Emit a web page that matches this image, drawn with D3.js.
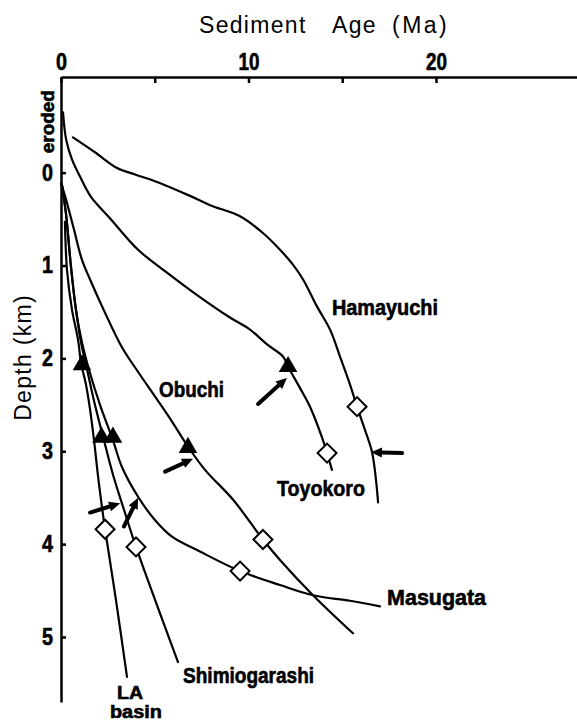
<!DOCTYPE html>
<html>
<head>
<meta charset="utf-8">
<script src="https://cdn.jsdelivr.net/npm/d3@7"></script>
<style>
  html, body { margin: 0; padding: 0; background: #fff; }
  svg { display: block; }
  .title { font-family: "Liberation Sans", Arial, sans-serif; font-size: 23px; letter-spacing: 1.3px; fill: #000; }
  .bold { font-family: "Liberation Sans", Arial, sans-serif; font-weight: bold; fill: #000; stroke: #000; stroke-width: 0.6px; }
</style>
</head>
<body>
<svg id="chart" width="577" height="721"></svg>
<script>
// Burial curves: sediment age (Ma) against depth (km)
const hamayuchi = [[0.64,-0.38],[1.81,-0.22],[2.99,-0.05],[3.95,0.02],[5.12,0.10],[6.88,0.25],[7.95,0.35],[9.55,0.47],[10.77,0.65],[11.68,0.83],[12.37,0.99],[12.91,1.15],[13.65,1.44],[14.35,1.69],[14.88,1.98],[15.41,2.28],[15.79,2.52],[16.21,2.77],[16.59,3.01],[16.80,3.31],[16.91,3.55]];
const toyokoro = [[0.11,-0.65],[0.27,-0.36],[0.59,-0.14],[1.01,0.04],[1.60,0.26],[2.61,0.49],[4.11,0.83],[5.81,1.10],[7.41,1.34],[9.01,1.56],[10.08,1.69],[10.99,1.85],[11.84,1.98],[12.11,2.09],[12.75,2.32],[13.28,2.52],[13.92,2.85],[14.19,3.02],[14.45,3.20]];
const obuchi = [[0.00,0.11],[0.27,0.29],[0.69,0.61],[1.12,0.94],[1.55,1.15],[2.35,1.51],[3.25,1.88],[4.16,2.16],[5.01,2.41],[5.92,2.68],[6.77,2.95],[7.68,3.20],[9.17,3.52],[10.77,3.95],[11.68,4.17],[13.44,4.55],[15.57,4.96]];
const masugata = [[0.05,0.13],[0.27,0.45],[0.53,1.01],[0.80,1.48],[1.12,1.83],[1.49,2.12],[2.08,2.50],[2.77,2.88],[3.25,3.17],[4.11,3.49],[5.01,3.74],[5.92,3.92],[7.41,4.08],[9.55,4.29],[11.68,4.44],[13.44,4.55],[15.41,4.61],[17.01,4.67]];
const shimiogarashi = [[0.05,0.13],[0.27,0.45],[0.53,1.01],[0.80,1.48],[1.07,1.83],[1.39,2.12],[1.81,2.50],[2.29,2.88],[2.77,3.25],[3.36,3.63],[4.00,4.03],[5.07,4.63],[6.24,5.27]];
const laBasin = [[0.21,0.53],[0.32,1.05],[0.59,1.48],[0.91,1.80],[1.07,2.05],[1.33,2.28],[1.55,2.55],[1.76,2.88],[2.03,3.36],[2.35,3.84],[2.93,4.60],[3.52,5.43]];

// Filled triangles, open diamonds, arrows (tail -> head)
const triangles = [[12.11,2.09],[6.77,2.96],[1.12,2.07],[2.16,2.85],[2.77,2.85]];
const diamonds = [[15.79,2.52],[14.19,3.02],[10.77,3.95],[9.55,4.29],[2.35,3.84],[4.00,4.03]];
const arrows = [
  [[10.51,2.49],[12.05,2.21]],
  [[18.19,3.02],[16.53,3.01]],
  [[5.55,3.22],[7.04,3.08]],
  [[1.55,3.66],[3.15,3.56]],
  [[3.36,3.81],[4.11,3.50]]
];

const xTicks = [0, 5, 10, 15, 20];
const xTickLabels = ["0", "", "10", "", "20"];
const yTicks = [0, 1, 2, 3, 4, 5];
const yTickLabels = ["0", "1", "2", "3", "4", "5"];

const curveNames = ["Hamayuchi", "Toyokoro", "Obuchi", "Masugata", "Shimiogarashi", "LA", "basin"];
const curveNameAt = [[14.45,1.53],[11.52,3.48],[5.23,2.42],[17.39,4.66],[6.51,5.50],[2.99,5.67],[2.61,5.87]];
const curveNameWidth = [106, 88, 65, 99, 131, 26, 52];

const svg = d3.select("#chart");
svg.append("rect").attr("width", 577).attr("height", 721).attr("fill", "#fff");

const x = d3.scaleLinear().domain([0, 27.52]).range([61, 577]);
const y = d3.scaleLinear().domain([-1.03, 5.70]).range([77, 702]);

// Top age axis, ticks pointing into the plot
const xAxis = d3.axisTop(x)
  .tickValues(xTicks)
  .tickFormat((d, i) => xTickLabels[i])
  .tickSizeInner(-6).tickSizeOuter(0).tickPadding(7);
const gx = svg.append("g").attr("transform", `translate(0,${y(-1.03)})`).call(xAxis);
gx.select(".domain").attr("stroke-width", 2.5);
gx.selectAll(".tick line").attr("stroke-width", 2.5);
gx.selectAll(".tick text").attr("class", "bold").style("font-size", "23px")
  .attr("textLength", d => d === 0 ? 11 : 21).attr("lengthAdjust", "spacingAndGlyphs");

// Left depth axis
const yAxis = d3.axisLeft(y)
  .tickValues(yTicks)
  .tickFormat((d, i) => yTickLabels[i])
  .tickSizeInner(-5).tickSizeOuter(0).tickPadding(8);
const gy = svg.append("g").attr("transform", `translate(${x(0)},0)`).call(yAxis);
gy.select(".domain").attr("stroke-width", 2.5);
gy.selectAll(".tick line").attr("stroke-width", 2.5);
gy.selectAll(".tick text").attr("class", "bold").style("font-size", "23px")
  .attr("textLength", 11).attr("lengthAdjust", "spacingAndGlyphs");

// "eroded" above the zero depth mark
svg.append("text").attr("class", "bold")
  .attr("transform", `translate(${x(0) - 7},${y(-0.21)}) rotate(-90)`)
  .style("font-size", "19px")
  .attr("textLength", 63).attr("lengthAdjust", "spacingAndGlyphs")
  .text("eroded");

// Axis titles
const xt = svg.append("text").attr("class", "title").attr("y", 33);
xt.append("tspan").attr("x", 199).text("Sediment");
xt.append("tspan").attr("x", 332).text("Age");
xt.append("tspan").attr("x", 392).style("letter-spacing", "2.5px").text("(Ma)");

svg.append("text").attr("class", "title")
  .attr("transform", `translate(31,${y(1.99)}) rotate(-90)`)
  .attr("text-anchor", "middle")
  .text("Depth (km)");

// Curves
const line = d3.line().x(d => x(d[0])).y(d => y(d[1])).curve(d3.curveCatmullRom.alpha(0.5));
const curves = [hamayuchi, toyokoro, obuchi, masugata, shimiogarashi, laBasin];
svg.append("g").selectAll("path").data(curves).join("path")
  .attr("d", line)
  .attr("fill", "none").attr("stroke", "#000").attr("stroke-width", 2.2)
  .attr("stroke-linecap", "round");

// Filled triangles
const tri = d3.symbol().type(d3.symbolTriangle).size(150);
svg.append("g").selectAll("path").data(triangles).join("path")
  .attr("d", tri)
  .attr("transform", d => `translate(${x(d[0])},${y(d[1])})`)
  .attr("fill", "#000");

// Open diamonds
const dia = d3.symbol().type(d3.symbolSquare).size(180);
svg.append("g").selectAll("path").data(diamonds).join("path")
  .attr("d", dia)
  .attr("transform", d => `translate(${x(d[0])},${y(d[1])}) rotate(45)`)
  .attr("fill", "#fff").attr("stroke", "#000").attr("stroke-width", 2);

// Arrows
const ga = svg.append("g");
arrows.forEach(([t, h]) => {
  const x0 = x(t[0]), y0 = y(t[1]), x1 = x(h[0]), y1 = y(h[1]);
  const ang = Math.atan2(y1 - y0, x1 - x0);
  const hl = 11, hw = 5;
  const bx = x1 - hl * Math.cos(ang), by = y1 - hl * Math.sin(ang);
  ga.append("line").attr("x1", x0).attr("y1", y0).attr("x2", bx).attr("y2", by)
    .attr("stroke", "#000").attr("stroke-width", 4).attr("stroke-linecap", "round");
  const px = -Math.sin(ang), py = Math.cos(ang);
  ga.append("path")
    .attr("d", `M${x1},${y1}L${bx + hw * px},${by + hw * py}L${bx - hw * px},${by - hw * py}Z`)
    .attr("fill", "#000");
});

// Curve names
svg.append("g").selectAll("text").data(curveNames).join("text")
  .attr("class", "bold")
  .attr("x", (d, i) => x(curveNameAt[i][0]))
  .attr("y", (d, i) => y(curveNameAt[i][1]))
  .style("font-size", d => (d === "LA" || d === "basin") ? "18px" : "22px")
  .attr("textLength", (d, i) => curveNameWidth[i])
  .attr("lengthAdjust", "spacingAndGlyphs")
  .text(d => d);
</script>
</body>
</html>
